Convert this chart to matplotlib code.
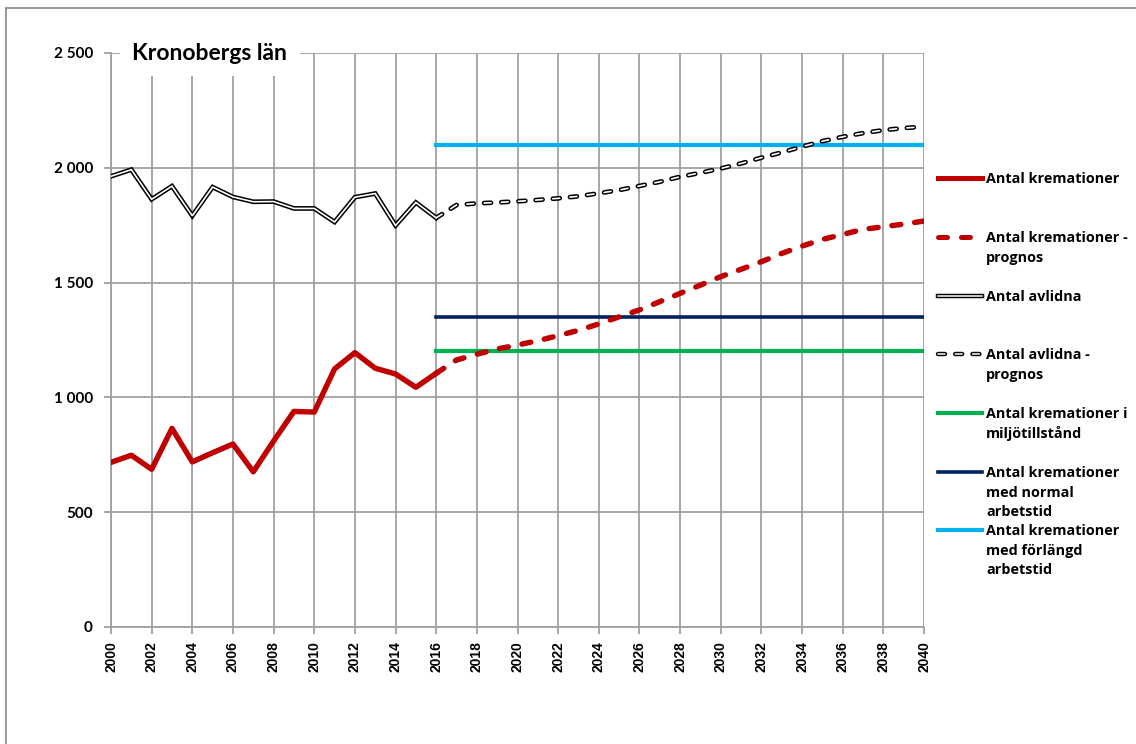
import matplotlib
matplotlib.use('Agg')
import matplotlib.pyplot as plt
from matplotlib.lines import Line2D

plt.rcParams['lines.scale_dashes'] = False

# data
years_hist = list(range(2000, 2017))
krem_hist = [717, 748, 687, 865, 719, 759, 797, 676, 810, 939, 936, 1124, 1195, 1127, 1102, 1044, 1105]
avl_hist = [1963, 1992, 1863, 1920, 1791, 1916, 1873, 1852, 1853, 1823, 1823, 1764, 1872, 1888, 1749, 1849, 1782]

years_prog = list(range(2016, 2041))
krem_prog = [1105, 1163, 1188, 1211, 1228, 1247, 1269, 1292, 1320, 1351, 1381, 1417, 1453, 1489, 1526,
             1558, 1591, 1627, 1659, 1688, 1710, 1732, 1743, 1755, 1768]
avl_prog = [1782, 1838, 1845, 1849, 1854, 1860, 1867, 1876, 1889, 1903, 1921, 1939, 1961, 1978, 1997,
            2019, 2044, 2067, 2092, 2116, 2135, 2151, 2164, 2173, 2179]

miljo = 1200      # Antal kremationer i miljötillstånd
normal = 1350     # normal arbetstid
forlangd = 2100   # förlängd arbetstid

labels = ['Antal kremationer', 'Antal kremationer -\nprognos', 'Antal avlidna',
          'Antal avlidna -\nprognos', 'Antal kremationer i\nmiljötillstånd',
          'Antal kremationer\nmed normal\narbetstid', 'Antal kremationer\nmed förlängd\narbetstid']

RED = '#C00000'
GREEN = '#00B050'
NAVY = '#002060'
LBLUE = '#00B0F0'
GRID = '#A0A0A0'
FONT = 'Lato'
LFONT = 'Open Sans'

fig = plt.figure(figsize=(11.36, 7.44), dpi=100)
W, H = 1136, 744
ax = fig.add_axes([111 / W, 1 - 627 / H, (924 - 111) / W, (627 - 53) / H])

# horizontal reference lines
ax.plot([2016, 2040], [forlangd, forlangd], color=LBLUE, lw=3, zorder=3)
ax.plot([2016, 2040], [normal, normal], color=NAVY, lw=2.6, zorder=3)
ax.plot([2016, 2040], [miljo, miljo], color=GREEN, lw=3, zorder=3)

# avlidna: double line
ax.plot(years_hist, avl_hist, color='black', lw=3.4, zorder=4, solid_joinstyle='miter')
ax.plot(years_hist, avl_hist, color='white', lw=1.2, zorder=5, solid_joinstyle='miter')
ax.plot(years_prog, avl_prog, color='black', lw=3.4, dashes=(5, 7.4), dash_capstyle='round', zorder=4)
ax.plot(years_prog, avl_prog, color='white', lw=1.2, dashes=(5, 7.4), dash_capstyle='round', zorder=5)

# kremationer
ax.plot(years_hist, krem_hist, color=RED, lw=3.9, zorder=6, solid_joinstyle='round')
ax.plot(years_prog, krem_prog, color=RED, lw=3.9, dashes=(6.5, 10), dash_capstyle='round', zorder=6)

ax.set_xlim(2000, 2040)
ax.set_ylim(0, 2500)
ax.set_xticks(range(2000, 2041, 2))
ax.set_yticks(range(0, 2501, 500))
ax.set_yticklabels(['0', '500', '1 000', '1 500', '2 000', '2 500'])
ax.grid(True, color=GRID, lw=1.3)
ax.set_axisbelow(True)
for s in ['top', 'right']:
    ax.spines[s].set_visible(False)
for s in ['left', 'bottom']:
    ax.spines[s].set_color(GRID)
    ax.spines[s].set_linewidth(1.3)
ax.tick_params(axis='both', colors=GRID, length=5, width=1.3, direction='out')
ax.tick_params(axis='y', labelcolor='black', pad=8)
ax.tick_params(axis='x', labelcolor='black', pad=5)
for t in ax.get_yticklabels():
    t.set_fontfamily(FONT)
    t.set_fontweight('bold')
    t.set_fontsize(11)
for t in ax.get_xticklabels():
    t.set_fontfamily('Liberation Sans')
    t.set_fontweight('bold')
    t.set_fontsize(10)
    t.set_rotation(90)

ax.text(0.026, 1.0, 'Kronobergs län', transform=ax.transAxes, fontfamily=FONT,
        fontweight='bold', fontsize=16.5, va='center', ha='left', zorder=10,
        bbox=dict(facecolor='white', edgecolor='none', pad=9))

# legend drawn by hand to the right of the plot
def fx(px):
    return px / W

def fy(py):
    return 1 - py / H

handle_y = [178, 237, 296, 354, 413, 472, 530]
x0, x1 = fx(938), fx(982)
hs = [
    [dict(color=RED, lw=3.6)],
    [dict(color=RED, lw=3.6, dashes=(6.5, 10), dash_capstyle='round')],
    [dict(color='black', lw=3.2), dict(color='white', lw=1.1)],
    [dict(color='black', lw=3.2, dashes=(5, 7.4), dash_capstyle='round'),
     dict(color='white', lw=1.1, dashes=(5, 7.4), dash_capstyle='round')],
    [dict(color=GREEN, lw=3)],
    [dict(color=NAVY, lw=2.6)],
    [dict(color=LBLUE, lw=3)],
]
for y, lab, styles in zip(handle_y, labels, hs):
    for st in styles:
        fig.add_artist(Line2D([x0, x1], [fy(y), fy(y)], transform=fig.transFigure, **st))
    for i, line in enumerate(lab.split('\n')):
        fig.text(fx(986), fy(y + 1 + i * 19.7), line, fontfamily=LFONT, fontweight='bold',
                 fontsize=10.4, va='center', ha='left')

# outer chart border (left and top only visible)
fig.add_artist(Line2D([fx(6), fx(6)], [fy(8), 0], transform=fig.transFigure, color='#888888', lw=1.2))
fig.add_artist(Line2D([fx(6), 1], [fy(8), fy(8)], transform=fig.transFigure, color='#888888', lw=1.2))

fig.savefig('out.png', dpi=100)
